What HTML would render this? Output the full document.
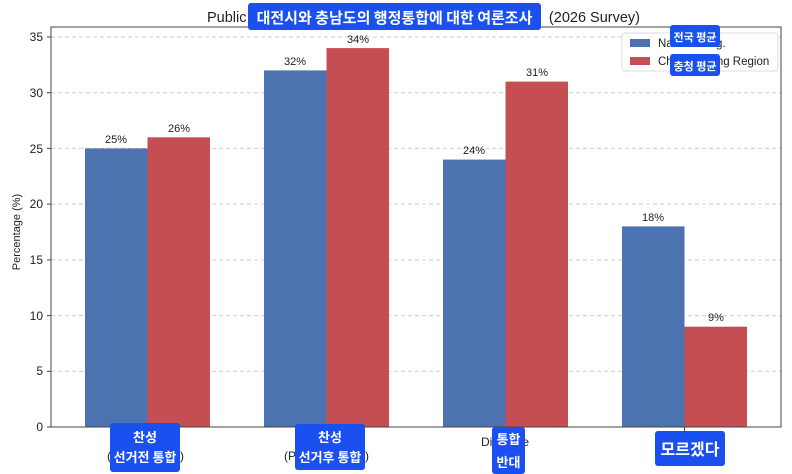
<!DOCTYPE html>
<html><head><meta charset="utf-8"><style>
html,body{margin:0;padding:0;background:#fff;}
svg{display:block;font-family:"Liberation Sans","Noto Sans CJK KR",sans-serif;}
.k{font-family:"Noto Sans CJK KR","Liberation Sans",sans-serif;font-weight:bold;fill:#fff;}
</style></head><body>
<svg width="792" height="474" viewBox="0 0 792 474" xmlns="http://www.w3.org/2000/svg">
<g stroke="#ccc" stroke-dasharray="4,3" stroke-width="1">
<line x1="51" x2="781" y1="37" y2="37"/>
<line x1="51" x2="781" y1="92.7" y2="92.7"/>
<line x1="51" x2="781" y1="148.4" y2="148.4"/>
<line x1="51" x2="781" y1="204.1" y2="204.1"/>
<line x1="51" x2="781" y1="259.9" y2="259.9"/>
<line x1="51" x2="781" y1="315.6" y2="315.6"/>
<line x1="51" x2="781" y1="371.3" y2="371.3"/>
</g>
<g>
<rect x="85" y="148.4" width="62.5" height="278.6" fill="#4c72b0"/>
<rect x="147.5" y="137.3" width="62.5" height="289.7" fill="#c44e52"/>
<rect x="264" y="70.4" width="62.5" height="356.6" fill="#4c72b0"/>
<rect x="326.5" y="48.1" width="62.5" height="378.9" fill="#c44e52"/>
<rect x="443" y="159.6" width="62.5" height="267.4" fill="#4c72b0"/>
<rect x="505.5" y="81.6" width="62.5" height="345.4" fill="#c44e52"/>
<rect x="622" y="226.4" width="62.5" height="200.6" fill="#4c72b0"/>
<rect x="684.5" y="326.7" width="62.5" height="100.3" fill="#c44e52"/>
</g>
<g font-size="11" fill="#222" text-anchor="middle">
<text x="116" y="143">25%</text><text x="179" y="132">26%</text>
<text x="295" y="65">32%</text><text x="358" y="43">34%</text>
<text x="474" y="154">24%</text><text x="537" y="76">31%</text>
<text x="653" y="221">18%</text><text x="716" y="321">9%</text>
</g>
<rect x="51" y="27" width="730" height="400" fill="none" stroke="#444" stroke-width="1"/>
<g font-size="12" fill="#222" text-anchor="end">
<text x="43" y="41">35</text><text x="43" y="97">30</text><text x="43" y="153">25</text>
<text x="43" y="208">20</text><text x="43" y="264">15</text><text x="43" y="320">10</text>
<text x="43" y="375">5</text><text x="43" y="431">0</text>
</g>
<g stroke="#444"><line x1="47" x2="51" y1="37" y2="37"/><line x1="47" x2="51" y1="92.7" y2="92.7"/><line x1="47" x2="51" y1="148.4" y2="148.4"/><line x1="47" x2="51" y1="204.1" y2="204.1"/><line x1="47" x2="51" y1="259.9" y2="259.9"/><line x1="47" x2="51" y1="315.6" y2="315.6"/><line x1="47" x2="51" y1="371.3" y2="371.3"/><line x1="47" x2="51" y1="427" y2="427"/>
<line x1="147.5" x2="147.5" y1="427" y2="431"/><line x1="326.5" x2="326.5" y1="427" y2="431"/><line x1="505.5" x2="505.5" y1="427" y2="431"/><line x1="684.5" x2="684.5" y1="427" y2="431"/></g>
<text transform="translate(20,232) rotate(-90)" font-size="11" fill="#222" text-anchor="middle">Percentage (%)</text>
<text x="207" y="22" font-size="14.5" fill="#222">Public C</text>
<text x="640" y="22" font-size="14.5" fill="#222" text-anchor="end">(2026 Survey)</text>
<rect x="248" y="3" width="293" height="27" rx="3" fill="#1a4ff0"/>
<text class="k" x="394.5" y="23" font-size="15" text-anchor="middle">대전시와 충남도의 행정통합에 대한 여론조사</text>
<rect x="622" y="33" width="156" height="38" rx="3" fill="#fff" stroke="#ddd"/>
<rect x="630" y="39" width="20" height="8" fill="#4c72b0"/><rect x="630" y="57" width="20" height="8" fill="#c44e52"/>
<text x="658" y="47" font-size="11.5" fill="#222">National Avg.</text>
<text x="658" y="65" font-size="11.5" fill="#222">Chungcheong Region</text>
<rect x="670" y="25" width="50" height="22" rx="3" fill="#1a4ff0"/><text class="k" x="695" y="41" font-size="11" text-anchor="middle">전국 평균</text>
<rect x="670" y="54" width="50" height="22" rx="3" fill="#1a4ff0"/><text class="k" x="695" y="70" font-size="11" text-anchor="middle">충청 평균</text>
<text x="505" y="446" font-size="12" fill="#222" text-anchor="middle">Disagree</text>
<text x="684" y="446" font-size="12" fill="#222" text-anchor="middle">Don't know</text>
<text x="107" y="460" font-size="12" fill="#222">(</text><text x="180" y="460" font-size="12" fill="#222">)</text>
<text x="284" y="460" font-size="12" fill="#222">(P</text><text x="365" y="460" font-size="12" fill="#222">)</text>
<rect x="110" y="423" width="70" height="49" rx="3" fill="#1a4ff0"/>
<text class="k" x="145" y="442" font-size="13" text-anchor="middle">찬성</text>
<text class="k" x="145" y="462" font-size="13" text-anchor="middle">선거전 통합</text>
<rect x="295" y="424" width="70" height="46" rx="3" fill="#1a4ff0"/>
<text class="k" x="330" y="442" font-size="13" text-anchor="middle">찬성</text>
<text class="k" x="330" y="462" font-size="13" text-anchor="middle">선거후 통합</text>
<rect x="492" y="427" width="33" height="47" rx="3" fill="#1a4ff0"/>
<text class="k" x="508.5" y="444" font-size="13" text-anchor="middle">통합</text>
<text class="k" x="508.5" y="467" font-size="13" text-anchor="middle">반대</text>
<rect x="655" y="431" width="70" height="35" rx="3" fill="#1a4ff0"/>
<text class="k" x="690" y="455" font-size="16" text-anchor="middle">모르겠다</text>
</svg>
</body></html>
